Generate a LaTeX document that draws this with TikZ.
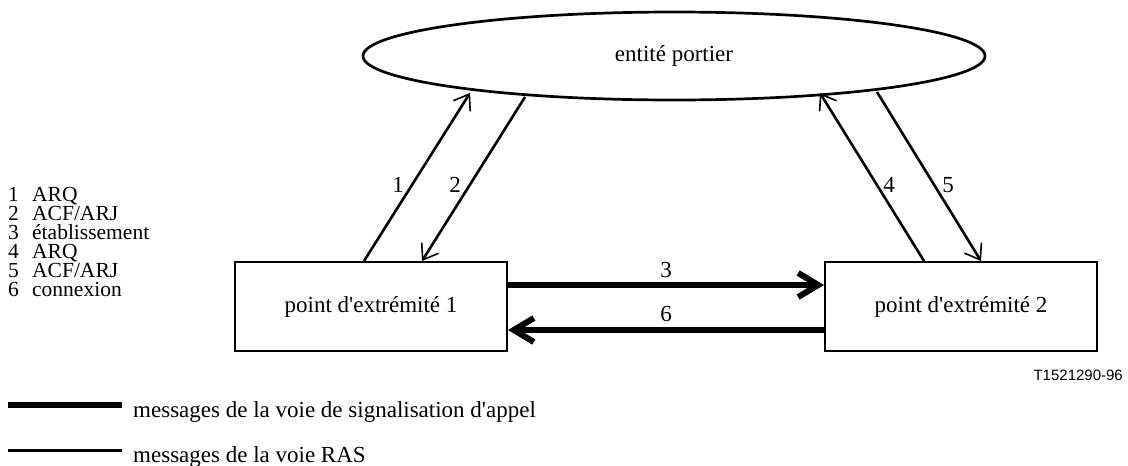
\documentclass[tikz,border=0pt]{standalone}
\usepackage{fontspec}
\setmainfont{Liberation Serif}
\newfontfamily\figsans{Liberation Sans}
\usetikzlibrary{shapes.geometric,arrows.meta,calc}
\begin{document}
\begin{tikzpicture}[x=1pt,y=-1pt,
  txt/.style={font=\fontsize{23}{27}\selectfont, inner sep=0pt},
  listtxt/.style={font=\fontsize{21.5}{24}\selectfont, inner sep=0pt, anchor=base west},
  boxnode/.style={draw, line width=2pt, minimum width=272pt, minimum height=89pt, inner sep=0pt, font=\fontsize{23}{27}\selectfont},
  gate/.style={draw, ellipse, line width=2.7pt, minimum width=622pt, minimum height=88pt, inner sep=0pt, font=\fontsize{23}{27}\selectfont},
  ras/.style={line width=2.6pt, -{Straight Barb[length=14pt,width=20pt,line width=1.6pt]}},
  sig/.style={line width=6pt, -{Straight Barb[length=20pt,width=24pt]}},
]
\useasboundingbox (0,0) rectangle (1128,466);

% main nodes
\node[gate] (gk) at (674,56) {entité portier};
\node[boxnode] (p1) at (371,306.5) {point d\textquotesingle extrémité 1};
\node[boxnode] (p2) at (961,306.5) {point d\textquotesingle extrémité 2};

% RAS messages
\draw[ras] ($(p1.north west)+(130,0)$) -- ($(gk.center)+(-204,37)$);
\draw[ras] ($(gk.center)+(-149,41)$) -- ($(p1.north west)+(188,0)$);
\draw[ras] ($(p2.north west)+(100,0)$) -- ($(gk.center)+(146,37)$);
\draw[ras] ($(gk.center)+(203,36)$) -- ($(p2.north west)+(157,0)$);

\node[txt] (n1) at (398,185) {1};
\node[txt] (n2) at (455,185) {2};
\node[txt] (n4) at (889,185) {4};
\node[txt] (n5) at (948,185) {5};

% call signalling messages
\draw[sig] ($(p1.east)+(0,-21.5)$) -- ($(p2.west)+(0,-21.5)$);
\draw[sig] ($(p2.west)+(0,23.5)$) -- ($(p1.east)+(0,23.5)$);
\node[txt] (n3) at (666,270) {3};
\node[txt] (n6) at (666,314) {6};

% list
\node[listtxt] (l1) at (8,201.5) {\makebox[24pt][l]{1}ARQ};
\node[listtxt] (l2) at (8,220.5) {\makebox[24pt][l]{2}ACF/ARJ};
\node[listtxt] (l3) at (8,239.5) {\makebox[24pt][l]{3}établissement};
\node[listtxt] (l4) at (8,258.5) {\makebox[24pt][l]{4}ARQ};
\node[listtxt] (l5) at (8,277.5) {\makebox[24pt][l]{5}ACF/ARJ};
\node[listtxt] (l6) at (8,296.5) {\makebox[24pt][l]{6}connexion};

% figure number
\node[anchor=east, inner sep=0pt, font=\figsans\fontsize{15}{18}\selectfont] (fig) at (1123,375) {T1521290-96};

% key
\coordinate (k1a) at (8,405);
\coordinate (k1b) at (122,405);
\draw[line width=5.5pt] (k1a) -- (k1b);
\node[txt, anchor=base west] (k1t) at (133,417) {messages de la voie de signalisation d\textquotesingle appel};
\coordinate (k2a) at (8,450);
\coordinate (k2b) at (122,450);
\draw[line width=3pt] (k2a) -- (k2b);
\node[txt, anchor=base west] (k2t) at (133,462) {messages de la voie RAS};
\end{tikzpicture}
\end{document}
